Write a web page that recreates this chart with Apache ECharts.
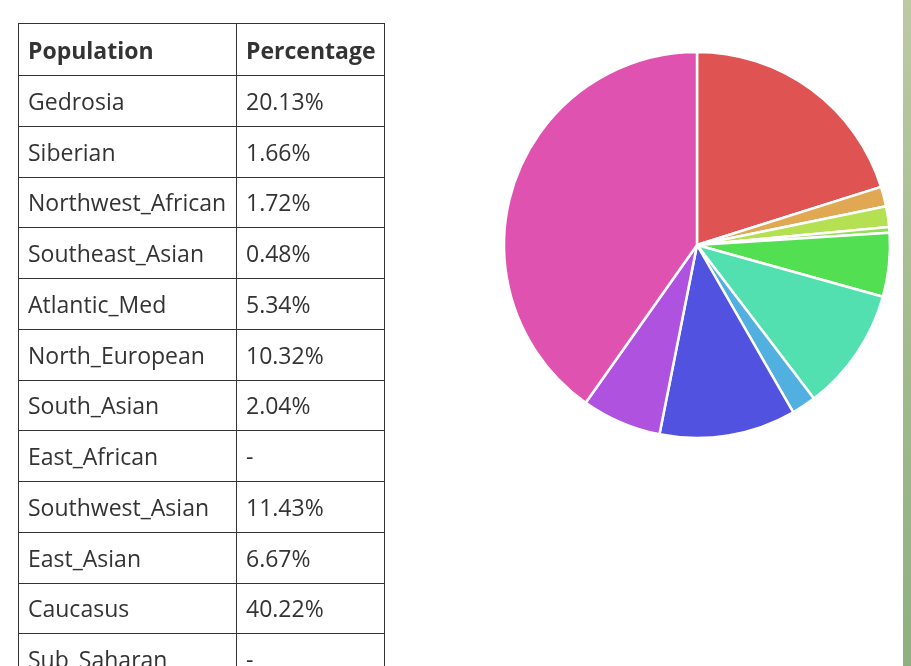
<!DOCTYPE html>
<html>
<head>
<meta charset="utf-8">
<script src="https://cdn.jsdelivr.net/npm/echarts@6/dist/echarts.min.js"></script>
<style>
  html, body { margin: 0; padding: 0; width: 911px; height: 666px; overflow: hidden; background: #fff; }
  #chart { position: absolute; left: 0; top: 0; width: 911px; height: 666px; }
  #strip { position: absolute; left: 903px; top: 0; width: 8px; height: 666px;
           background: linear-gradient(#bccaa4, #a3bb8e 50%, #8fb07e); }
  table { position: absolute; left: 18px; top: 23px; border-collapse: collapse; table-layout: fixed;
          font-family: "Open Sans", sans-serif; font-size: 23px; color: #333; }
  td, th { border: 1px solid #333; height: 50.75px; padding: 0 0 0 9px; text-align: left; box-sizing: border-box; white-space: nowrap; overflow: hidden; }
  th { font-weight: bold; height: 52px; }
  col.c1 { width: 218px; } col.c2 { width: 148px; }
</style>
</head>
<body>
<div id="chart"></div>
<div id="strip"></div>
<table id="tbl"><colgroup><col class="c1"><col class="c2"></colgroup></table>
<script>
var headers = ["Population", "Percentage"];
var populations = ["Gedrosia", "Siberian", "Northwest_African", "Southeast_Asian", "Atlantic_Med",
  "North_European", "South_Asian", "East_African", "Southwest_Asian", "East_Asian", "Caucasus", "Sub_Saharan"];
var percentages = [20.13, 1.66, 1.72, 0.48, 5.34, 10.32, 2.04, null, 11.43, 6.67, 40.22, null];
var colors = ["#df5353", "#e0a852", "#b5e052", "#8ee052", "#52e052", "#52e0b0",
  "#52b0e0", "#5281e0", "#5252e0", "#b052e0", "#e052b0", "#e05281"];

// table
var tbl = document.getElementById('tbl');
var hr = document.createElement('tr');
headers.forEach(function (h) { var th = document.createElement('th'); th.textContent = h; hr.appendChild(th); });
tbl.appendChild(hr);
populations.forEach(function (p, i) {
  var tr = document.createElement('tr');
  var a = document.createElement('td'); a.textContent = p;
  var b = document.createElement('td'); b.textContent = percentages[i] == null ? '-' : percentages[i].toFixed(2) + '%';
  tr.appendChild(a); tr.appendChild(b); tbl.appendChild(tr);
});

// pie
var data = [];
populations.forEach(function (p, i) {
  if (percentages[i] != null) data.push({ name: p, value: percentages[i], itemStyle: { color: colors[i] } });
});
var chart = echarts.init(document.getElementById('chart'), null, { renderer: 'canvas' });
chart.setOption({
  animation: false,
  series: [{
    type: 'pie',
    center: [697, 245],
    radius: 193,
    startAngle: 90,
    clockwise: true,
    label: { show: false },
    labelLine: { show: false },
    itemStyle: { borderColor: '#fff', borderWidth: 2.5 },
    data: data
  }]
});
</script>
</body>
</html>
